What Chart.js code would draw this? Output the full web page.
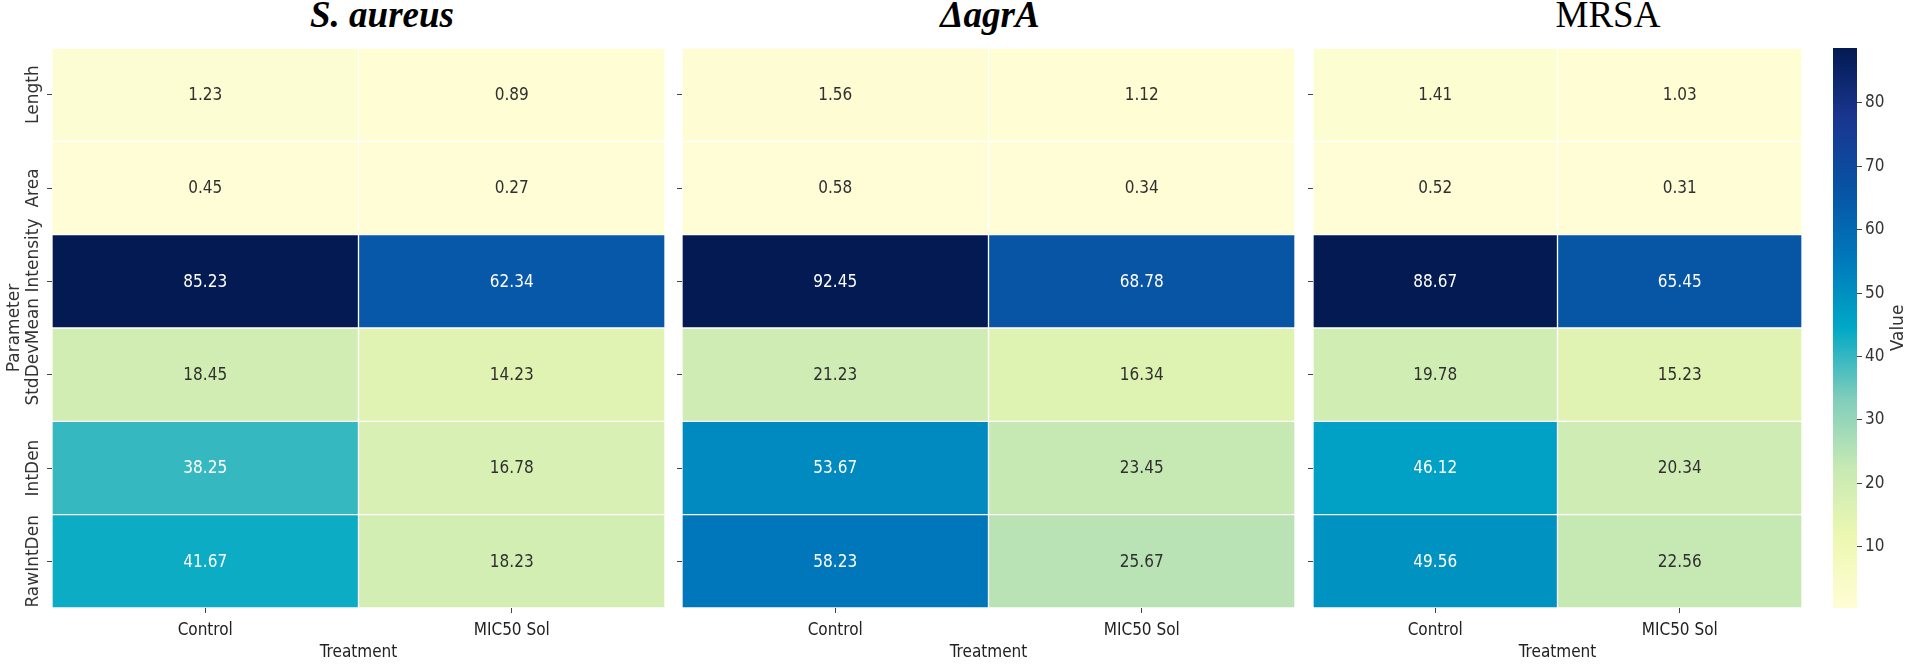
<!DOCTYPE html>
<html>
<head>
<meta charset="utf-8">
<script src="https://cdn.jsdelivr.net/npm/chart.js@4.4.0/dist/chart.umd.min.js"></script>
<style>
  body { margin: 0; background: #fff; width: 1912px; height: 667px; overflow: hidden; position: relative; }
  canvas { position: absolute; top: 0; }
  .ttl { position: absolute; top: -5px; width: 400px; text-align: center; color: #000;
         font-family: "Liberation Serif", "Times New Roman", serif; font-size: 37px; line-height: 40px; }
  .bi { font-weight: bold; font-style: italic; }
</style>
</head>
<body>
<div class="ttl bi" style="left:182px">S. aureus</div>
<div class="ttl bi" style="left:790px">ΔagrA</div>
<div class="ttl" style="left:1408px">MRSA</div>

<canvas id="saureus" width="665" height="667" style="left:0px"></canvas>
<canvas id="agrA" width="631" height="667" style="left:665px"></canvas>
<canvas id="mrsa" width="516" height="667" style="left:1296px"></canvas>
<canvas id="cbar" width="100" height="667" style="left:1812px"></canvas>

<script>
// ------------------ Data ------------------
const params = ["Length", "Area", "Mean Intensity", "StdDev", "IntDen", "RawIntDen"];
const treatments = ["Control", "MIC50 Sol"];

const saureusControl = [1.23, 0.45, 85.23, 18.45, 38.25, 41.67];
const saureusMic50   = [0.89, 0.27, 62.34, 14.23, 16.78, 18.23];
const agrAControl    = [1.56, 0.58, 92.45, 21.23, 53.67, 58.23];
const agrAMic50      = [1.12, 0.34, 68.78, 16.34, 23.45, 25.67];
const mrsaControl    = [1.41, 0.52, 88.67, 19.78, 46.12, 49.56];
const mrsaMic50      = [1.03, 0.31, 65.45, 15.23, 20.34, 22.56];

const cbarTicks = [10, 20, 30, 40, 50, 60, 70, 80];

// YlGnBu, a bit more saturated in the blues like the picture
const ylgnbu = ["#fffdd6", "#edf8b1", "#c7e9b4", "#7fcdbb", "#00a8c6", "#0078bc", "#0852a4", "#1a3690", "#031a52"];

const condensed = '"DejaVu Sans Condensed", "DejaVu Sans", sans-serif';
Chart.defaults.font.family = condensed;
Chart.defaults.font.size = 17;
Chart.defaults.color = "#262626";

function hexRgb(h) { return [1, 3, 5].map(i => parseInt(h.substr(i, 2), 16)); }
function cmap(t) {
  t = Math.min(1, Math.max(0, t));
  const p = t * (ylgnbu.length - 1);
  const i = Math.min(Math.floor(p), ylgnbu.length - 2);
  const f = p - i;
  const a = hexRgb(ylgnbu[i]), b = hexRgb(ylgnbu[i + 1]);
  return a.map((v, k) => Math.round(v + (b[k] - v) * f));
}
function lum(rgb) {
  const c = rgb.map(v => { v /= 255; return v <= 0.03928 ? v / 12.92 : Math.pow((v + 0.055) / 1.055, 2.4); });
  return 0.2126 * c[0] + 0.7152 * c[1] + 0.0722 * c[2];
}

// value text in the middle of every cell
const cellText = {
  id: "cellText",
  afterDatasetsDraw(chart) {
    const ctx = chart.ctx;
    ctx.save();
    ctx.font = "17px " + condensed;
    ctx.textAlign = "center";
    ctx.textBaseline = "middle";
    chart.data.datasets.forEach((ds, d) => {
      chart.getDatasetMeta(d).data.forEach((bar, r) => {
        const p = bar.getCenterPoint();
        ctx.fillStyle = ds.txtColor[r];
        ctx.fillText(ds.vals[r].toFixed(2), p.x, p.y + 1);
      });
    });
    ctx.restore();
  }
};

// rotated row names (only on the first panel)
const rowLabels = {
  id: "rowLabels",
  afterDraw(chart) {
    const s = chart.scales.y, ctx = chart.ctx;
    ctx.save();
    ctx.font = '17px "DejaVu Sans", sans-serif';
    ctx.fillStyle = "#333";
    ctx.textAlign = "center";
    ctx.textBaseline = "middle";
    params.forEach((p, i) => {
      ctx.save();
      ctx.translate(s.right - 18, s.getPixelForTick(i));
      ctx.rotate(-Math.PI / 2);
      ctx.fillText(p, 0, 0);
      ctx.restore();
    });
    ctx.restore();
  }
};

function heatmap(id, cols, yWidth, padRight, withLabels) {
  const all = cols.flat();
  const lo = Math.min(...all), hi = Math.max(...all);
  const rgb = cols.map(col => col.map(v => cmap((v - lo) / (hi - lo))));

  new Chart(document.getElementById(id), {
    type: "bar",
    data: {
      labels: params,
      datasets: cols.map((col, c) => ({
        data: col.map(() => [c, c + 1]),
        vals: col,
        backgroundColor: rgb[c].map(x => `rgb(${x.join(",")})`),
        txtColor: rgb[c].map(x => lum(x) > 0.408 ? "#303030" : "#ffffff"),
        borderColor: "#ffffff",
        borderWidth: 1,
        borderSkipped: false,
        barPercentage: 1,
        categoryPercentage: 1,
        grouped: false
      }))
    },
    options: {
      indexAxis: "y",
      responsive: false,
      animation: false,
      layout: { padding: { top: 48, right: padRight, left: 0, bottom: 0 } },
      plugins: { legend: { display: false }, tooltip: { enabled: false } },
      scales: {
        x: {
          type: "linear", min: 0, max: 2,
          afterBuildTicks: s => { s.ticks = treatments.map((t, i) => ({ value: i + 0.5 })); },
          ticks: { callback: (v, i) => treatments[i], autoSkip: false, maxRotation: 0, padding: 7, color: "#222" },
          grid: { drawOnChartArea: false, tickLength: 5, color: "#444" },
          border: { display: false },
          title: { display: true, text: "Treatment", color: "#222" },
          afterFit: s => { s.height = 59; }
        },
        y: {
          ticks: { display: false },
          grid: { offset: false, drawOnChartArea: false, tickLength: 5, color: "#444" },
          border: { display: false },
          title: { display: withLabels, text: "Parameter", color: "#333", font: { family: '"DejaVu Sans", sans-serif', size: 17 } },
          afterFit: s => { s.width = yWidth; }
        }
      }
    },
    plugins: withLabels ? [cellText, rowLabels] : [cellText]
  });
}

// ------------------ Panels ------------------
heatmap("saureus", [saureusControl, saureusMic50], 52, 0, true);
heatmap("agrA", [agrAControl, agrAMic50], 17, 1, false);
heatmap("mrsa", [mrsaControl, mrsaMic50], 17, 10, false);

// ------------------ Colour bar (MRSA scale) ------------------
const cLo = Math.min(...mrsaControl, ...mrsaMic50);
const cHi = Math.max(...mrsaControl, ...mrsaMic50);

const valueLabel = {
  id: "valueLabel",
  afterDraw(chart) {
    const a = chart.chartArea, ctx = chart.ctx;
    ctx.save();
    ctx.font = '17px "DejaVu Sans", sans-serif';
    ctx.fillStyle = "#333";
    ctx.textAlign = "center";
    ctx.textBaseline = "middle";
    ctx.translate(a.right + 42, (a.top + a.bottom) / 2);
    ctx.rotate(-Math.PI / 2);
    ctx.fillText("Value", 0, 0);
    ctx.restore();
  }
};

new Chart(document.getElementById("cbar"), {
  type: "bar",
  data: {
    labels: ["Value"],
    datasets: [{
      data: [[cLo, cHi]],
      backgroundColor: c => {
        const chart = c.chart;
        if (!chart.chartArea) return ylgnbu[0];
        const y = chart.scales.y;
        const g = chart.ctx.createLinearGradient(0, y.getPixelForValue(cLo), 0, y.getPixelForValue(cHi));
        ylgnbu.forEach((col, i) => g.addColorStop(i / (ylgnbu.length - 1), col));
        return g;
      },
      borderWidth: 0,
      barPercentage: 1,
      categoryPercentage: 1
    }]
  },
  options: {
    responsive: false,
    animation: false,
    layout: { padding: { top: 48, bottom: 59, left: 21, right: 0 } },
    plugins: { legend: { display: false }, tooltip: { enabled: false } },
    scales: {
      x: { display: false },
      y: {
        position: "right", min: cLo, max: cHi,
        afterBuildTicks: s => { s.ticks = cbarTicks.map(v => ({ value: v })); },
        ticks: { padding: 3, color: "#333" },
        grid: { drawOnChartArea: false, tickLength: 5, color: "#444" },
        border: { display: false },
        afterFit: s => { s.width = 55; }
      }
    }
  },
  plugins: [valueLabel]
});
</script>
</body>
</html>
